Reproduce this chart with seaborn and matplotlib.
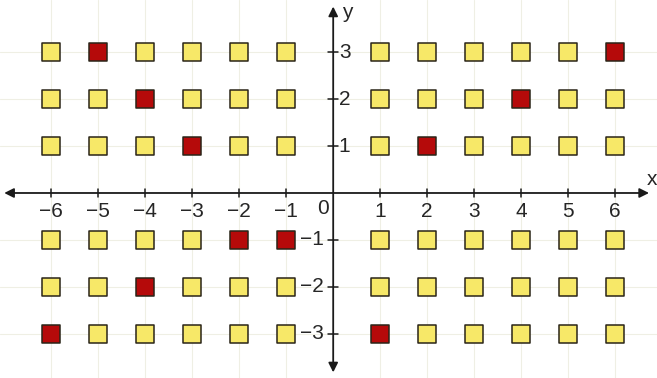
import numpy as np
import pandas as pd
import matplotlib
matplotlib.use("Agg")
import matplotlib.pyplot as plt
import seaborn as sns

# grid of squares (no squares on the axes)
x_vals = [-6, -5, -4, -3, -2, -1, 1, 2, 3, 4, 5, 6]
y_vals = [3, 2, 1, -1, -2, -3]

# red squares
red_x = [-5, 6, -4, 4, -3, 2, -2, -1, -4, -6, 1]
red_y = [3, 3, 2, 2, 1, 1, -1, -1, -2, -3, -3]

x_ticks = [-6, -5, -4, -3, -2, -1, 1, 2, 3, 4, 5, 6]
y_ticks = [3, 2, 1, -1, -2, -3]

sns.set_style("white")
plt.rcParams['font.family'] = ['Liberation Sans', 'DejaVu Sans']

reds = set(zip(red_x, red_y))
rows = []
for yv in y_vals:
    for xv in x_vals:
        rows.append({'x': xv, 'y': yv, 'kind': 'red' if (xv, yv) in reds else 'yellow'})
df = pd.DataFrame(rows)

fig = plt.figure(figsize=(6.57, 3.78), dpi=100)
ax = fig.add_axes([0, 0, 1, 1])
ax.set_xlim(-7.09, 6.89)
ax.set_ylim(-3.94, 4.11)
ax.axis('off')

# faint grid
for xv in x_ticks:
    ax.axvline(xv, color='#efefe4', lw=0.8, zorder=0)
for yv in y_ticks:
    ax.axhline(yv, color='#efefe4', lw=0.8, zorder=0)

sns.scatterplot(data=df, x='x', y='y', hue='kind', marker='s', s=175,
                palette={'yellow': '#f7e868', 'red': '#b50a0a'},
                edgecolor='#2a2418', linewidth=1.1, legend=False, ax=ax, zorder=3)

# axes with arrows
ax.annotate('', xy=(6.72, 0), xytext=(-7.0, 0),
            arrowprops=dict(arrowstyle='<|-|>', color='#1a1a1a', lw=1.3,
                            mutation_scale=14, shrinkA=0, shrinkB=0))
ax.annotate('', xy=(0, 3.97), xytext=(0, -3.82),
            arrowprops=dict(arrowstyle='<|-|>', color='#1a1a1a', lw=1.3,
                            mutation_scale=14, shrinkA=0, shrinkB=0))

# tick marks
for xv in x_ticks:
    ax.plot([xv, xv], [-0.08, 0.08], color='#1a1a1a', lw=1.1)
for yv in y_ticks:
    ax.plot([-0.1, 0.1], [yv, yv], color='#1a1a1a', lw=1.1)

fs = 15
for xv in x_ticks:
    ax.text(xv, -0.4, str(xv).replace('-', '\u2212'), ha='center', va='center', fontsize=fs)
for yv in y_ticks:
    if yv > 0:
        ax.text(0.12, yv, str(yv), ha='left', va='center', fontsize=fs)
    else:
        ax.text(-0.2, yv, str(yv).replace('-', '\u2212'), ha='right', va='center', fontsize=fs)
ax.text(-0.21, -0.32, '0', ha='center', va='center', fontsize=fs)
ax.text(0.3, 3.85, 'y', ha='center', va='center', fontsize=fs)
ax.text(6.78, 0.28, 'x', ha='center', va='center', fontsize=fs)

fig.savefig('out.png', dpi=100)
